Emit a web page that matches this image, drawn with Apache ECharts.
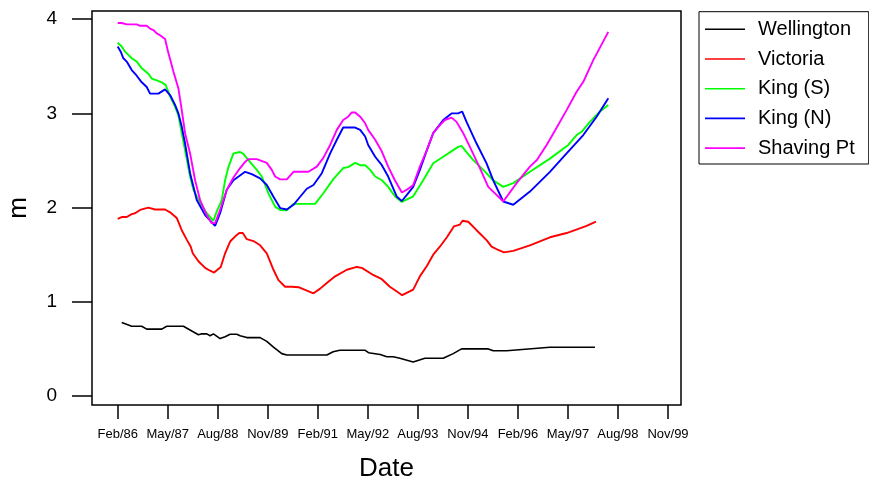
<!DOCTYPE html>
<html>
<head>
<meta charset="utf-8">
<script src="https://cdn.jsdelivr.net/npm/echarts@6/dist/echarts.min.js"></script>
<style>html,body{margin:0;padding:0;background:#fff}#c{width:869px;height:480px}</style>
</head>
<body>
<div id="c"></div>
<script>
// x = months since Feb/86, y = m
const tickMonths = [0, 15, 30, 45, 60, 75, 90, 105, 120, 135, 150, 165];
const tickLabels = ['Feb/86','May/87','Aug/88','Nov/89','Feb/91','May/92','Aug/93','Nov/94','Feb/96','May/97','Aug/98','Nov/99'];
const yTicks = [0, 1, 2, 3, 4];
const seriesNames = ['Wellington','Victoria','King (S)','King (N)','Shaving Pt'];
const seriesColors = ['#000000','#ff0000','#00ff00','#0000ff','#ff00ff'];

const wellington = [[1.2,0.78],[4.2,0.74],[7.2,0.74],[8.7,0.71],[13.2,0.71],[14.7,0.74],[19.7,0.74],[24.2,0.65],[25.2,0.66],[26.7,0.66],[27.7,0.64],[28.7,0.66],[30.7,0.61],[32.2,0.63],[33.7,0.655],[35.7,0.655],[36.7,0.64],[38.7,0.62],[42.7,0.62],[44.7,0.58],[46.7,0.52],[49.2,0.45],[50.7,0.435],[62.7,0.435],[64.6,0.47],[66.6,0.485],[74.2,0.485],[75.2,0.46],[78.7,0.44],[80.7,0.417],[82.6,0.417],[84.6,0.40],[88.6,0.36],[92.1,0.40],[97.6,0.40],[100.6,0.45],[103.1,0.50],[111.1,0.50],[112.6,0.48],[116.6,0.48],[129.6,0.517],[143.1,0.517]];

const victoria = [[0,1.88],[1.2,1.90],[2.7,1.90],[4.2,1.93],[5.2,1.94],[6.7,1.975],[9.2,2.0],[11.2,1.98],[14.2,1.98],[15.7,1.95],[17.7,1.89],[19.2,1.76],[20.7,1.66],[21.9,1.585],[22.5,1.515],[24.2,1.43],[26.2,1.36],[27.7,1.33],[28.9,1.31],[30.9,1.37],[32.2,1.515],[33.7,1.64],[35.7,1.71],[36.5,1.73],[37.5,1.73],[38.7,1.665],[40.7,1.645],[42.7,1.60],[44.7,1.515],[46.7,1.34],[48.2,1.23],[50.2,1.16],[52.2,1.16],[54.2,1.155],[58.7,1.09],[60.7,1.14],[62.7,1.20],[65.2,1.27],[68.7,1.34],[71.7,1.37],[73.2,1.36],[76.6,1.285],[79.2,1.24],[81.6,1.16],[83.7,1.11],[85.3,1.07],[88.6,1.13],[90.6,1.27],[92.7,1.38],[94.6,1.50],[96.6,1.585],[98.7,1.685],[100.8,1.80],[102.6,1.82],[103.4,1.86],[105.1,1.85],[107.6,1.76],[110.6,1.655],[112.1,1.585],[114.1,1.55],[115.8,1.525],[118.6,1.54],[123.6,1.60],[129.6,1.685],[134.6,1.73],[140.6,1.805],[143.4,1.85]];

const kingS = [[0,3.75],[1.2,3.71],[2.2,3.655],[4.2,3.585],[5.7,3.55],[7.2,3.48],[9.2,3.42],[10.2,3.37],[11.7,3.35],[13.2,3.33],[14.4,3.30],[15.7,3.18],[17.2,3.07],[18.2,2.98],[19.2,2.79],[21.7,2.33],[22.7,2.19],[24.7,2.05],[26.7,1.94],[28.7,1.86],[29.7,1.96],[31.2,2.08],[32.2,2.29],[33.2,2.43],[34.7,2.575],[36.7,2.59],[37.7,2.57],[39.2,2.505],[41.7,2.40],[43.2,2.33],[45.2,2.15],[47.2,2.01],[48.7,1.975],[50.7,1.97],[52.7,2.04],[59.2,2.04],[61.6,2.15],[64.6,2.30],[67.6,2.42],[69.1,2.43],[71.2,2.475],[72.7,2.45],[74.2,2.45],[75.7,2.40],[77.2,2.33],[79.2,2.29],[81.1,2.22],[83.1,2.12],[85.2,2.06],[88.6,2.12],[91.6,2.29],[94.6,2.47],[97.6,2.54],[100.6,2.61],[102.1,2.645],[103.1,2.655],[104.1,2.61],[106.6,2.505],[109.6,2.40],[112.6,2.29],[115.6,2.22],[118.6,2.26],[123.6,2.38],[129.6,2.52],[135.1,2.665],[137.6,2.77],[139.1,2.805],[141.6,2.91],[144.6,3.02],[147.1,3.09]];

const kingN = [[0,3.71],[0.9,3.655],[1.7,3.585],[2.7,3.55],[4.2,3.46],[5.7,3.40],[7.2,3.33],[8.7,3.28],[9.7,3.21],[12.2,3.21],[14.2,3.255],[15.7,3.195],[17.2,3.09],[18.2,3.0],[19.2,2.86],[20.2,2.68],[21.7,2.365],[23.7,2.08],[26.2,1.92],[29.2,1.805],[30.7,1.94],[32.7,2.19],[34.7,2.29],[38.2,2.38],[40.2,2.355],[42.7,2.31],[44.7,2.24],[46.7,2.115],[48.7,1.995],[50.7,1.98],[52.7,2.03],[54.7,2.115],[56.7,2.20],[58.7,2.24],[61.2,2.365],[63.7,2.575],[65.7,2.72],[67.6,2.85],[71.2,2.85],[72.7,2.825],[74.2,2.755],[75.1,2.665],[77.2,2.54],[79.2,2.45],[81.1,2.33],[83.7,2.115],[85.2,2.07],[86.7,2.135],[88.6,2.22],[90.6,2.40],[92.7,2.61],[94.6,2.79],[97.6,2.93],[100.1,3.0],[102.1,3.0],[103.3,3.02],[104.6,2.91],[107.6,2.68],[110.6,2.47],[112.6,2.29],[115.6,2.065],[118.6,2.03],[123.6,2.17],[129.6,2.38],[134.6,2.575],[139.6,2.77],[143.6,2.965],[147.1,3.16]];

const shavingPt = [[0,3.96],[1.2,3.96],[2.7,3.945],[5.7,3.945],[6.7,3.93],[8.7,3.93],[9.7,3.90],[10.7,3.885],[11.7,3.85],[12.7,3.83],[14.2,3.79],[15.2,3.64],[16.7,3.445],[18.2,3.265],[19.2,3.035],[20.2,2.79],[21.7,2.575],[23.2,2.29],[24.7,2.08],[26.7,1.92],[28.2,1.835],[29.2,1.835],[30.7,1.975],[32.7,2.19],[34.7,2.32],[36.7,2.42],[38.2,2.485],[39.2,2.515],[41.7,2.515],[44.7,2.475],[46.2,2.40],[47.2,2.33],[48.7,2.30],[50.7,2.30],[52.7,2.38],[57.2,2.38],[59.7,2.435],[61.6,2.525],[63.7,2.665],[65.7,2.825],[67.6,2.93],[69.1,2.965],[70.2,3.01],[71.2,3.01],[72.7,2.965],[74.2,2.895],[75.1,2.825],[77.2,2.72],[79.2,2.595],[81.1,2.435],[83.1,2.29],[85.2,2.16],[86.7,2.19],[88.6,2.24],[90.6,2.435],[92.7,2.61],[94.6,2.79],[96.6,2.875],[98.1,2.93],[100.1,2.955],[101.6,2.91],[103.6,2.79],[105.6,2.645],[108.6,2.42],[111.1,2.22],[113.6,2.135],[115.6,2.065],[119.6,2.26],[123.6,2.435],[125.7,2.505],[128.6,2.665],[130.1,2.755],[134.6,3.035],[137.6,3.23],[139.6,3.335],[142.6,3.565],[147.1,3.865]];

const seriesData = [wellington, victoria, kingS, kingN, shavingPt];
const FONT = '"Liberation Sans", Arial, sans-serif';

const chart = echarts.init(document.getElementById('c'), null, {renderer: 'canvas'});
chart.setOption({
  animation: false,
  backgroundColor: '#fff',
  textStyle: {fontFamily: FONT, color: '#000'},
  grid: {left: 92, top: 11, width: 589, height: 394, show: true, borderColor: '#000', borderWidth: 1.5,
    containLabel: false, outerBoundsMode: 'none'},
  legend: {
    orient: 'vertical', left: 699, top: 11.7,
    icon: 'rect',
    itemWidth: 40, itemHeight: 1.6, itemGap: 3.7,
    padding: [4.6, 14, 2.9, 6],
    borderColor: '#000', borderWidth: 1,
    data: seriesNames,
    textStyle: {fontFamily: FONT, fontSize: 20, color: '#000', lineHeight: 20, padding: [6, 0, 0, 8]}
  },
  xAxis: {
    type: 'value', min: -7.71, max: 168.9,
    name: 'Date', nameLocation: 'middle', nameGap: 50.5,
    nameTextStyle: {fontFamily: FONT, fontSize: 26, color: '#000'},
    axisLine: {show: false, onZero: false},
    splitLine: {show: false},
    axisTick: {show: true, length: 14, inside: false, customValues: tickMonths, lineStyle: {color: '#000', width: 1.5}},
    axisLabel: {show: true, margin: 23, fontSize: 13, color: '#000', fontFamily: FONT, customValues: tickMonths,
      formatter: function (v) { const i = tickMonths.indexOf(Math.round(v)); return i >= 0 ? tickLabels[i] : ''; }}
  },
  yAxis: {
    type: 'value', min: -0.0955, max: 4.087,
    name: 'm', nameLocation: 'middle', nameGap: 60, nameRotate: 90,
    nameTextStyle: {fontFamily: FONT, fontSize: 26, color: '#000'},
    axisLine: {show: false, onZero: false},
    splitLine: {show: false},
    axisTick: {show: true, length: 20, inside: false, customValues: yTicks, lineStyle: {color: '#000', width: 1.5}},
    axisLabel: {show: true, margin: 35, fontSize: 19, color: '#000', fontFamily: FONT, customValues: yTicks}
  },
  series: seriesNames.map(function (n, i) {
    return {
      name: n, type: 'line', data: seriesData[i], symbol: 'none', showSymbol: false,
      color: seriesColors[i],
      lineStyle: {color: seriesColors[i], width: i === 0 ? 1.6 : 1.9},
      z: 2 + i
    };
  })
});
</script>
</body>
</html>
